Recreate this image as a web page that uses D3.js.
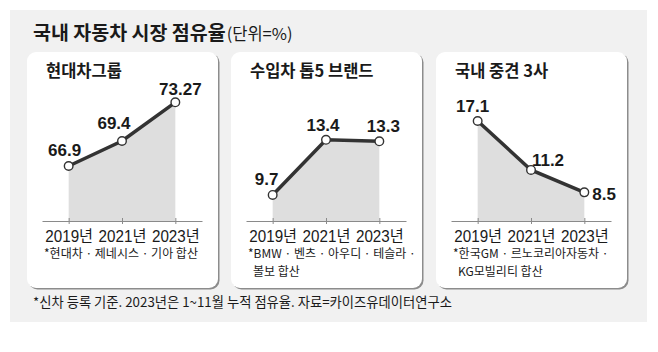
<!DOCTYPE html>
<html>
<head>
<meta charset="utf-8">
<script src="https://cdn.jsdelivr.net/npm/d3@7"></script>
<style>
  body { margin: 0; background: #fff; }
  text { font-family: "Noto Sans CJK KR", sans-serif; fill: #1a1a1a; }
  .num { font-family: "Liberation Sans", "Noto Sans CJK KR", sans-serif; }
</style>
</head>
<body>
<svg id="chart" width="658" height="352"></svg>
<script>
// data
const years = ["2019년", "2021년", "2023년"];
const panelTitles = ["현대차그룹", "수입차 톱5 브랜드", "국내 중견 3사"];
const hyundaiShare = [66.9, 69.4, 73.27];
const importShare = [9.7, 13.4, 13.3];
const midsizeShare = [17.1, 11.2, 8.5];
const panelNotes = [
  ["*현대차 · 제네시스 · 기아 합산"],
  ["*BMW · 벤츠 · 아우디 · 테슬라 ·", "볼보 합산"],
  ["*한국GM · 르노코리아자동차 ·", "KG모빌리티 합산"]
];
const chartTitle = "국내 자동차 시장 점유율";
const unitText = "(단위=%)";
const sourceNote = "*신차 등록 기준. 2023년은 1~11월 누적 점유율. 자료=카이즈유데이터연구소";

// layout per panel (value label offsets from the point)
const panels = [
  { values: hyundaiShare, left: 27, yDomain: [61.4, 73.5],
    labels: [[-4, -10, "middle"], [-8, -12, "middle"], [5, -7, "middle"]] },
  { values: importShare, left: 231, yDomain: [7.95, 16.07],
    labels: [[-6, -10, "middle"], [-3, -9, "middle"], [4, -9, "middle"]] },
  { values: midsizeShare, left: 436, yDomain: [5.05, 19.63],
    labels: [[-5, -9, "middle"], [17, -4, "middle"], [8, 8, "start"]] }
];

const svg = d3.select("#chart");
const panelTop = 52, panelW = 191, panelH = 236;
const axisY = 221, plotTop = 100;

// background box
svg.append("rect")
  .attr("x", 10).attr("y", 10)
  .attr("width", 637).attr("height", 312)
  .attr("fill", "#f1f1f1");

// main title
const title = svg.append("text")
  .attr("x", 33).attr("y", 40)
  .style("font-size", "19.5px")
  .style("font-weight", "bold");
title.append("tspan").text(chartTitle);
title.append("tspan")
  .style("font-weight", "normal")
  .style("font-size", "16.5px")
  .attr("dx", 1)
  .text(unitText);

panels.forEach((p, i) => {
  const g = svg.append("g").attr("transform", `translate(${p.left},${panelTop})`);

  // shadow + card
  g.append("rect")
    .attr("x", 1.5).attr("y", 1.5)
    .attr("width", panelW).attr("height", panelH)
    .attr("rx", 9)
    .attr("fill", "#8c8c8c");
  g.append("rect")
    .attr("width", panelW).attr("height", panelH)
    .attr("rx", 9)
    .attr("fill", "#fff");

  g.append("text")
    .attr("x", 19).attr("y", 25)
    .style("font-size", "16.5px")
    .style("font-weight", "bold")
    .text(panelTitles[i]);

  const x = d3.scalePoint().domain(years).range([15, 175]).padding(0.5);
  const y = d3.scaleLinear().domain(p.yDomain).range([axisY - panelTop, plotTop - panelTop]);

  const pts = years.map((yr, j) => ({ year: yr, value: p.values[j] }));

  const area = d3.area()
    .x(d => x(d.year))
    .y0(y(p.yDomain[0]))
    .y1(d => y(d.value));

  g.append("path")
    .datum(pts)
    .attr("d", area)
    .attr("fill", "#dedede");

  const axis = g.append("g")
    .attr("transform", `translate(0,${axisY - panelTop})`)
    .call(d3.axisBottom(x).tickSize(3).tickSizeOuter(0).tickPadding(7));
  axis.select(".domain").attr("stroke", "#8a8a8a");
  axis.selectAll(".tick line").attr("stroke", "#8a8a8a").attr("y1", -3);
  axis.selectAll(".tick text")
    .attr("class", "num")
    .attr("transform", "scale(0.95,1)")
    .style("font-size", "16px")
    .attr("fill", "#1a1a1a");

  const line = d3.line()
    .x(d => x(d.year))
    .y(d => y(d.value));

  g.append("path")
    .datum(pts)
    .attr("d", line)
    .attr("fill", "none")
    .attr("stroke", "#333")
    .attr("stroke-width", 3.5);

  g.selectAll(".dot")
    .data(pts)
    .enter()
    .append("circle")
    .attr("class", "dot")
    .attr("cx", d => x(d.year))
    .attr("cy", d => y(d.value))
    .attr("r", 4.3)
    .attr("fill", "#fff")
    .attr("stroke", "#333")
    .attr("stroke-width", 1.4);

  g.selectAll(".val")
    .data(pts)
    .enter()
    .append("text")
    .attr("class", "val num")
    .attr("x", (d, j) => x(d.year) + p.labels[j][0])
    .attr("y", (d, j) => y(d.value) + p.labels[j][1])
    .attr("text-anchor", (d, j) => p.labels[j][2])
    .style("font-size", "17px")
    .style("font-weight", "bold")
    .text(d => String(d.value));

  // footnote under the panel axis
  panelNotes[i].forEach((line, k) => {
    g.append("text")
      .attr("x", k === 0 ? 17 : 22)
      .attr("y", 206 + k * 18)
      .style("font-size", "12px")
      .text(line);
  });
});

svg.append("text")
  .attr("x", 33).attr("y", 307)
  .style("font-size", "13.3px")
  .text(sourceNote);
</script>
</body>
</html>
